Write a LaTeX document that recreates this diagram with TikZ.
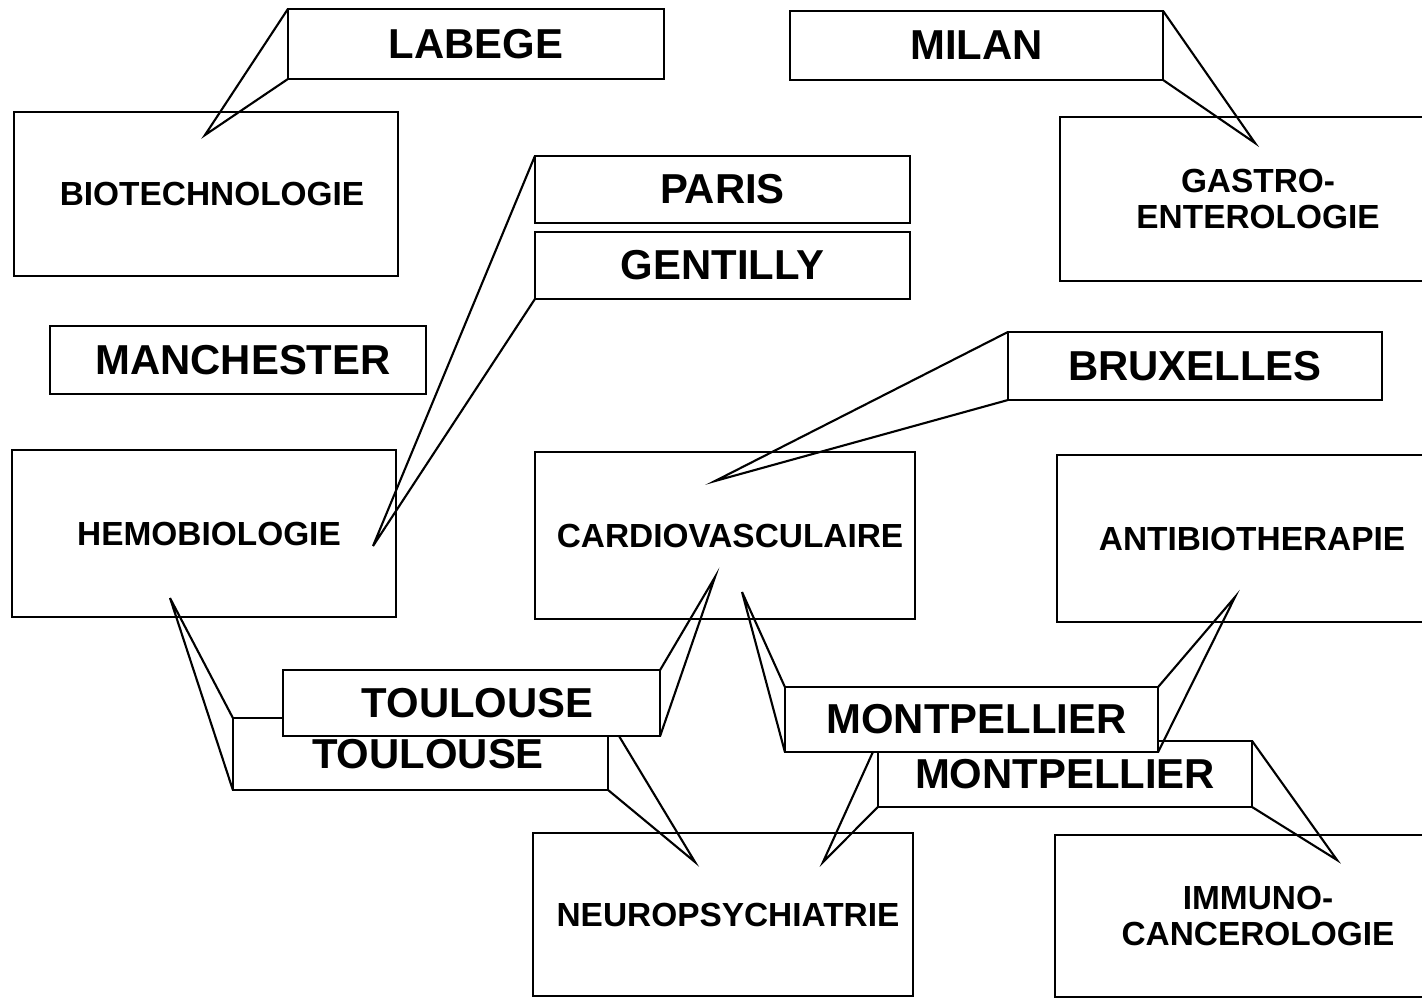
\documentclass[tikz,border=0pt]{standalone}
\usepackage{fontspec}
\setmainfont{Liberation Sans}

\tikzset{
  ville/.style={draw, fill=white, inner sep=0pt, outer sep=0pt,
    font=\bfseries\fontsize{11.9}{13}\selectfont},
  domaine/.style={draw, inner sep=0pt, outer sep=0pt, align=center,
    font=\bfseries\fontsize{9.5}{10.2}\selectfont},
}

\begin{document}
\begin{tikzpicture}[x=0.01cm, y=-0.01cm, line width=0.6pt]
			\useasboundingbox (0,0) rectangle (1422,999);
			\clip (0,0) rectangle (1422,999);
			
			%%%%% domaines %%%%%
			\node[domaine, minimum width=3.84cm, minimum height=1.64cm] (biotech) at (206,194) {\hspace{0.12cm}BIOTECHNOLOGIE};
			\node[domaine, minimum width=3.96cm, minimum height=1.64cm] (gastro) at (1258,199) {GASTRO-\\ENTEROLOGIE};
			\node[domaine, minimum width=3.84cm, minimum height=1.67cm] (hemo) at (204,533.5) {\hspace{0.1cm}HEMOBIOLOGIE};
			\node[domaine, minimum width=3.80cm, minimum height=1.67cm] (cardio) at (725,535.5) {\hspace{0.1cm}CARDIOVASCULAIRE};
			\node[domaine, minimum width=3.90cm, minimum height=1.67cm] (antibio) at (1252,538.5) {ANTIBIOTHERAPIE};
			\node[domaine, minimum width=3.80cm, minimum height=1.63cm] (neuro) at (723,914.5) {\hspace{0.1cm}NEUROPSYCHIATRIE};
			\node[domaine, minimum width=4.06cm, minimum height=1.62cm] (immuno) at (1258,916) {IMMUNO-\\CANCEROLOGIE};
			
			%%%%% pointes %%%%%
			\coordinate (pLabege) at (205,135);
			\coordinate (pMilan) at (1255,143);
			\coordinate (pParis) at (373,546);
			\coordinate (pBrux) at (715,481);
			\coordinate (pToulA) at (715,577);
			\coordinate (pToulB) at (170,598);
			\coordinate (pToulC) at (695,862);
			\coordinate (pMontA) at (742,592);
			\coordinate (pMontB) at (1235,597);
			\coordinate (pMontC) at (823,862);
			\coordinate (pMontD) at (1337,860);
			
			%%%%% villes %%%%%
			\node[ville, minimum width=3.76cm, minimum height=0.70cm] (labege) at (476,44) {LABEGE};
			\node[ville, minimum width=3.73cm, minimum height=0.69cm] (milan) at (976.5,45.5) {MILAN};
			\node[ville, minimum width=3.75cm, minimum height=0.67cm] (paris) at (722.5,189.5) {PARIS};
			\node[ville, minimum width=3.75cm, minimum height=0.67cm] (gentilly) at (722.5,265.5) {GENTILLY};
			\node[ville, minimum width=3.76cm, minimum height=0.68cm] (manchester) at (238,360) {\hspace{0.1cm}MANCHESTER};
			\node[ville, minimum width=3.74cm, minimum height=0.68cm] (bruxelles) at (1195,366) {BRUXELLES};
			
			\draw (labege.north west) -- (pLabege) -- (labege.south west);
			\draw (milan.north east) -- (pMilan) -- (milan.south east);
			\draw (paris.north west) -- (pParis) -- (gentilly.south west);
			\draw (bruxelles.north west) -- (pBrux) -- (bruxelles.south west);
			
			% toulouse
			\node[ville, minimum width=3.75cm, minimum height=0.72cm] (toulouseB) at (420.5,754) {\hspace{0.15cm}TOULOUSE};
			\draw (toulouseB.north west) -- (pToulB) -- (toulouseB.south west);
			\draw (toulouseB.north east) -- (pToulC) -- (toulouseB.south east);
			\node[ville, minimum width=3.77cm, minimum height=0.66cm] (toulouseA) at (471.5,703) {\hspace{0.12cm}TOULOUSE};
			\draw (toulouseA.north east) -- (pToulA) -- (toulouseA.south east);
			
			% montpellier
			\node[ville, minimum width=3.74cm, minimum height=0.66cm] (montpellierB) at (1065,774) {MONTPELLIER};
			\draw (montpellierB.north west) -- (pMontC) -- (montpellierB.south west);
			\draw (montpellierB.north east) -- (pMontD) -- (montpellierB.south east);
			\node[ville, minimum width=3.73cm, minimum height=0.65cm] (montpellierA) at (971.5,719.5) {\hspace{0.1cm}MONTPELLIER};
			\draw (montpellierA.north west) -- (pMontA) -- (montpellierA.south west);
			\draw (montpellierA.north east) -- (pMontB) -- (montpellierA.south east);
		\end{tikzpicture}
\end{document}
